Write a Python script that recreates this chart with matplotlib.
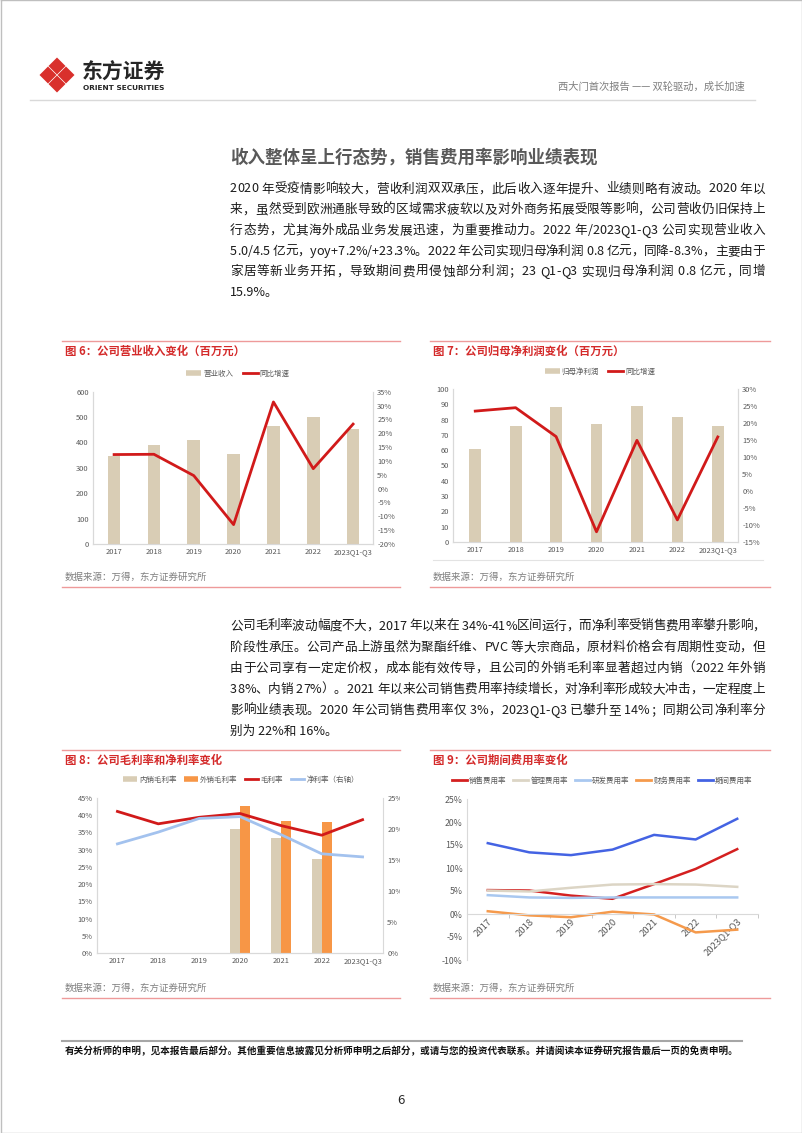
import numpy as np
import matplotlib.pyplot as plt
from matplotlib.lines import Line2D
from matplotlib.patches import Polygon
from matplotlib.transforms import Bbox, TransformedBbox

plt.rcParams['font.family'] = ['Noto Sans CJK SC', 'DejaVu Sans']
plt.rcParams['axes.unicode_minus'] = False

# ---- data ----
years = ['2017', '2018', '2019', '2020', '2021', '2022', '2023Q1-Q3']
revenue = [347, 390, 409, 355, 464, 499, 452]            # 营业收入, 百万元
revenue_yoy = [12.3, 12.4, 4.7, -13.0, 31.3, 7.2, 23.3]  # 同比增速 %
profit = [61, 76, 88.2, 77.3, 89, 81.9, 75.5]            # 归母净利润, 百万元
profit_yoy = [23.5, 24.5, 16.0, -12.0, 14.9, -8.5, 15.9]
dom_gm = [np.nan, np.nan, np.nan, 36.1, 33.4, 27.3, np.nan]   # 内销毛利率
exp_gm = [np.nan, np.nan, np.nan, 42.6, 38.4, 37.9, np.nan]   # 外销毛利率
gross_margin = [41.1, 37.5, 39.4, 40.5, 37.0, 34.2, 38.7]
net_margin = [17.6, 19.5, 21.7, 22.0, 19.1, 16.0, 15.5]       # 右轴
sell_rate = [5.2, 5.1, 4.0, 3.3, 6.5, 9.8, 14.1]
admin_rate = [5.1, 4.9, 5.7, 6.4, 6.5, 6.4, 5.9]
rd_rate = [4.1, 3.6, 3.5, 3.6, 3.6, 3.6, 3.6]
fin_rate = [0.6, -0.3, -0.7, 0.5, -0.1, -4.0, -3.4]
period_rate = [15.4, 13.4, 12.8, 14.0, 17.2, 16.2, 20.7]

header = '西大门首次报告 —— 双轮驱动，成长加速'
section_title = '收入整体呈上行态势，销售费用率影响业绩表现'
para1 = [
    '2020 年受疫情影响较大，营收利润双双承压，此后收入逐年提升、业绩则略有波动。2020 年以',
    '来，虽然受到欧洲通胀导致的区域需求疲软以及对外商务拓展受限等影响，公司营收仍旧保持上',
    '行态势，尤其海外成品业务发展迅速，为重要推动力。2022 年/2023Q1-Q3 公司实现营业收入',
    '5.0/4.5 亿元，yoy+7.2%/+23.3%。2022 年公司实现归母净利润 0.8 亿元，同降-8.3%，主要由于',
    '家居等新业务开拓，导致期间费用侵蚀部分利润；23 Q1-Q3 实现归母净利润 0.8 亿元，同增',
    '15.9%。',
]
para2 = [
    '公司毛利率波动幅度不大，2017 年以来在 34%-41%区间运行，而净利率受销售费用率攀升影响，',
    '阶段性承压。公司产品上游虽然为聚酯纤维、PVC 等大宗商品，原材料价格会有周期性变动，但',
    '由于公司享有一定定价权，成本能有效传导，且公司的外销毛利率显著超过内销（2022 年外销',
    '38%、内销 27%）。2021 年以来公司销售费用率持续增长，对净利率形成较大冲击，一定程度上',
    '影响业绩表现。2020 年公司销售费用率仅 3%，2023Q1-Q3 已攀升至 14%；同期公司净利率分',
    '别为 22%和 16%。',
]
source = '数据来源：万得，东方证券研究所'
footer = ('有关分析师的申明，见本报告最后部分。其他重要信息披露见分析师申明之后部分，'
          '或请与您的投资代表联系。并请阅读本证券研究报告最后一页的免责申明。')

W, H = 802, 1133
BEIGE = '#d9cdb5'
RED = '#d11a1a'
ORANGE = '#f79646'
PINK = '#ee9a9a'
GREY = '#595959'


def box(l, t, r, b):
    return [l / W, 1 - b / H, (r - l) / W, (b - t) / H]


def style(ax, size=5.4):
    ax.set_facecolor('none')
    ax.tick_params(length=0, labelsize=size, labelcolor=GREY, pad=3)
    for s in ax.spines.values():
        s.set_color('#d9d9d9')
        s.set_linewidth(0.8)
    ax.spines['top'].set_visible(False)


def pct(ax, ticks):
    ax.set_yticks(ticks)
    ax.set_yticklabels(['%d%%' % t for t in ticks])


fig = plt.figure(figsize=(W / 100, H / 100), dpi=100)
page = fig.add_axes([0, 0, 1, 1])
page.set_xlim(0, W)
page.set_ylim(H, 0)
page.axis('off')
renderer = fig.canvas.get_renderer()


def text_width(s, **kw):
    t = page.text(0, 0, s, **kw)
    w = t.get_window_extent(renderer).width
    t.remove()
    return w


def justified(y, s, x0=230, x1=765, **kw):
    # spread the line to fill x0..x1; keep runs of latin letters/digits together
    bar = text_width('|', **kw)
    pre = [text_width(s[:i] + '|', **kw) - bar for i in range(len(s) + 1)]
    weights = [0 if (s[i].isascii() and s[i] != ' ' and s[i + 1].isascii() and s[i + 1] != ' ')
               else 1 for i in range(len(s) - 1)]
    gap = (x1 - x0 - pre[-1]) / sum(weights)
    shift = 0
    for i, ch in enumerate(s):
        if ch != ' ':
            page.text(x0 + pre[i] + shift, y, ch, va='center', **kw)
        if i < len(weights):
            shift += weights[i] * gap


# page border, logo, header
page.plot([0.5, 0.5, W - 0.5, W - 0.5, 0.5], [0, H, H, 0, 0], color='#bfbfbf', lw=1)
cx, cy, d = 57, 75, 8.5
for ox, oy in [(0, -9), (9, 0), (0, 9), (-9, 0)]:
    x0, y0 = cx + ox, cy + oy
    page.add_patch(Polygon([(x0, y0 - d), (x0 + d, y0), (x0, y0 + d), (x0 - d, y0)],
                           closed=True, color='#d9302c', lw=0))
page.text(82, 72, '东方证券', fontsize=15, fontweight='bold', color='#262626', va='center')
page.text(83, 87.5, 'ORIENT SECURITIES', fontsize=5.3, fontweight='bold', color='#262626',
          va='center', family=['DejaVu Sans'])
page.text(745, 87, header, fontsize=7.4, color='#7f7f7f', ha='right', va='center')
page.plot([30, 755], [99.5, 99.5], color='#d9d9d9', lw=1)

# text blocks
page.text(230, 158, section_title, fontsize=12.6, fontweight='bold', color=GREY, va='center')
body = dict(fontsize=9.1, color='#1a1a1a')
for lines, top, step in [(para1, 189, 20.7), (para2, 626, 21.1)]:
    for i, line in enumerate(lines):
        y = top + i * step
        if i < len(lines) - 1:
            justified(y, line, **body)
        else:
            page.text(230, y, line, va='center', **body)

# chart frames (titles, red rules, sources)
frames = [
    (65, 400, 341, 587, '图 6：公司营业收入变化（百万元）'),
    (433, 770, 341, 587, '图 7：公司归母净利润变化（百万元）'),
    (65, 400, 750, 998, '图 8：公司毛利率和净利率变化'),
    (433, 770, 750, 998, '图 9：公司期间费用率变化'),
]
for l, r, t, b, title in frames:
    page.plot([l - 3, r], [t, t], color=PINK, lw=1)
    page.plot([l - 3, r], [b, b], color=PINK, lw=1)
    page.text(l, t + 10.5, title, fontsize=8.2, fontweight='bold', color='#d42a2a', va='center')
    page.text(l, b - 9.5, source, fontsize=6.8, color='#7f7f7f', va='center')
page.plot([433, 763], [560, 560], color='#e3e3e3', lw=0.8)

# footer
page.plot([62, 742], [1041, 1041], color='#a6a6a6', lw=1.5)
page.text(65, 1051, footer, fontsize=6.9, fontweight='bold', color='#111111', va='center')
page.text(401, 1101, '6', fontsize=9.5, color='#262626', ha='center', va='center')

x = np.arange(len(years))


def legend(ax, handles, labels, cx, cy, **kw):
    ax.legend(handles, labels, loc='center', bbox_to_anchor=(cx / W, 1 - cy / H),
              bbox_transform=fig.transFigure, ncol=len(labels), frameon=False,
              fontsize=5.4, handlelength=kw.pop('hl', 2.0), handletextpad=0.3,
              columnspacing=kw.pop('cs', 1.2), labelcolor=GREY, **kw)


def bar_handle(c):
    return Line2D([], [], color=c, lw=4, solid_capstyle='butt')


# chart 6: revenue
ax = fig.add_axes(box(93, 391.7, 373, 544))
style(ax)
ax.bar(x, revenue, width=0.32, color=BEIGE)
ax.set_xlim(-0.53, 6.5)
ax.set_ylim(0, 600)
ax.set_yticks(range(0, 601, 100))
ax.set_xticks(x)
ax.set_xticklabels(years)
ax2 = ax.twinx()
style(ax2)
ax2.plot(x, revenue_yoy, color=RED, lw=2)
ax2.set_ylim(-20, 35)
pct(ax2, range(-20, 36, 5))
legend(ax2, [bar_handle(BEIGE), Line2D([], [], color=RED, lw=2)], ['营业收入', '同比增速'], 238, 374)

# chart 7: net profit
ax = fig.add_axes(box(453, 389, 738, 542))
style(ax)
ax.bar(x, profit, width=0.29, color=BEIGE)
ax.set_xlim(-0.55, 6.5)
ax.set_ylim(0, 100)
ax.set_yticks(range(0, 101, 10))
ax.set_xticks(x)
ax.set_xticklabels(years)
ax2 = ax.twinx()
style(ax2)
ax2.plot(x, profit_yoy, color=RED, lw=2)
ax2.set_ylim(-15, 30)
pct(ax2, range(-15, 31, 5))
legend(ax2, [bar_handle(BEIGE), Line2D([], [], color=RED, lw=2)], ['归母净利润', '同比增速'], 600, 372)

# chart 8: margins
ax = fig.add_axes(box(97, 798, 383, 953))
style(ax)
ax.bar(x - 0.125, dom_gm, width=0.25, color=BEIGE)
ax.bar(x + 0.125, exp_gm, width=0.25, color=ORANGE)
ax.plot(x, gross_margin, color=RED, lw=2)
ax.set_xlim(-0.5, 6.5)
ax.set_ylim(0, 45)
pct(ax, range(0, 46, 5))
ax.set_xticks(x)
ax.set_xticklabels(years)
ax2 = ax.twinx()
style(ax2)
ax2.spines['right'].set_visible(False)
ax2.plot(x, net_margin, color='#a3c2ee', lw=2)
ax2.set_ylim(0, 25)
pct(ax2, range(0, 26, 5))
clip = TransformedBbox(Bbox.from_extents(0, 0, 400, H), page.transData)
for tk in ax2.yaxis.get_major_ticks():
    tk.label2.set_clip_box(clip)
    tk.label2.set_clip_on(True)
legend(ax2, [bar_handle(BEIGE), bar_handle(ORANGE), Line2D([], [], color=RED, lw=2),
             Line2D([], [], color='#a3c2ee', lw=2)],
       ['内销毛利率', '外销毛利率', '毛利率', '净利率（右轴）'], 241, 780, hl=1.8, cs=1.0)

# chart 9: expense ratios
ax = fig.add_axes(box(467, 799, 758, 960))
style(ax, size=6.3)
ax.spines['right'].set_visible(False)
ax.spines['bottom'].set_position(('data', 0))
series9 = [
    (sell_rate, '#d42020', '销售费用率'),
    (admin_rate, '#dcd5c5', '管理费用率'),
    (rd_rate, '#a9c8f0', '研发费用率'),
    (fin_rate, '#f59a4c', '财务费用率'),
    (period_rate, '#4463e3', '期间费用率'),
]
for vals, c, lab in series9:
    ax.plot(x, vals, color=c, lw=1.8)
ax.set_xlim(-0.43, 6.5)
ax.set_ylim(-10, 25)
pct(ax, range(-10, 26, 5))
ax.set_xticks(x)
ax.set_xticklabels(years, rotation=45, ha='right', rotation_mode='anchor')
ax.tick_params(axis='x', labelsize=6.8, pad=2)
ax.set_xticks(np.arange(-0.5, 6.6, 1), minor=True)
ax.tick_params(axis='x', which='minor', length=3, color='#bfbfbf', direction='out')
legend(ax, [Line2D([], [], color=c, lw=2) for _, c, _ in series9],
       [lab for _, _, lab in series9], 602, 781, hl=2.0, cs=0.9)

fig.savefig('out.png', dpi=100)
